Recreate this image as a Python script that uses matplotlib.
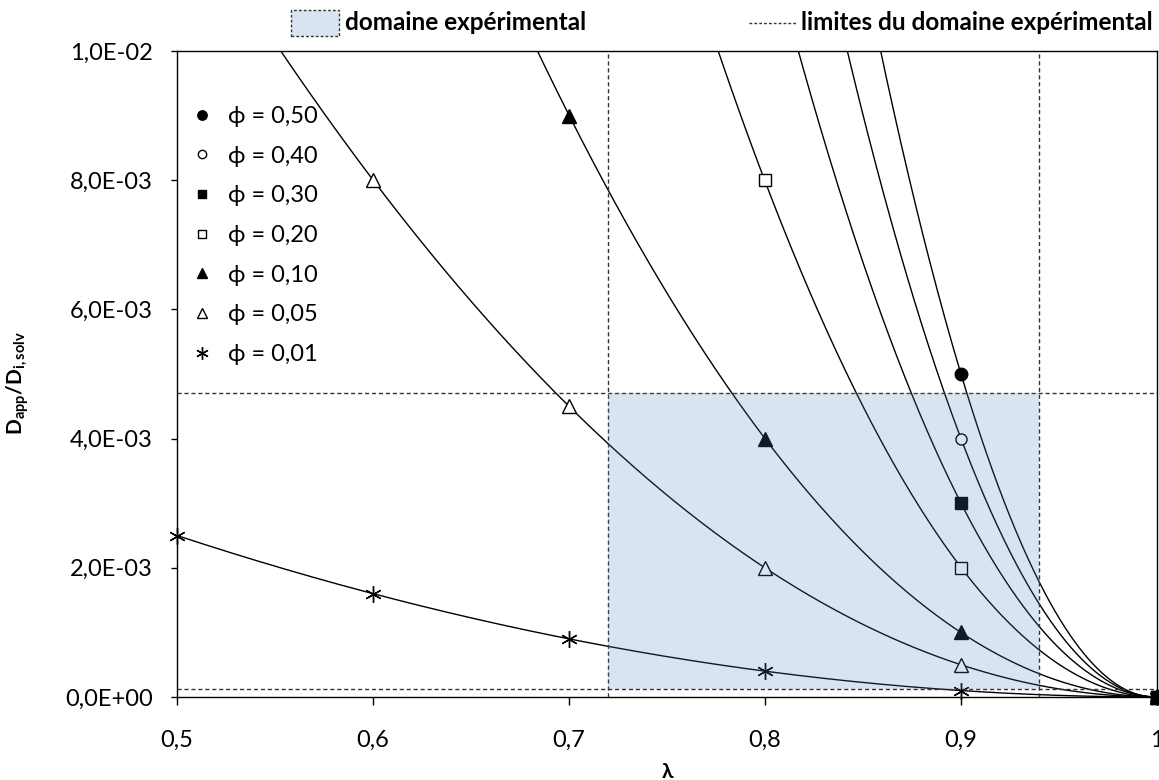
import numpy as np
import matplotlib
matplotlib.use("Agg")
import matplotlib.pyplot as plt
from matplotlib.ticker import FuncFormatter, MultipleLocator
from matplotlib.patches import Rectangle
from matplotlib.lines import Line2D

plt.rcParams["font.family"] = ["Lato", "DejaVu Sans"]
plt.rcParams["mathtext.fontset"] = "custom"
plt.rcParams["mathtext.rm"] = "Lato"
plt.rcParams["mathtext.bf"] = "Lato:bold"
plt.rcParams["mathtext.it"] = "Lato:italic"

# ---- data: measured points per volume fraction phi ----
phi_labels = ["ϕ = 0,50", "ϕ = 0,40", "ϕ = 0,30", "ϕ = 0,20", "ϕ = 0,10", "ϕ = 0,05", "ϕ = 0,01"]

lam_050 = [0.9, 1.0]
d_050 = [5.0e-3, 0.0]
lam_040 = [0.9, 1.0]
d_040 = [4.0e-3, 0.0]
lam_030 = [0.9, 1.0]
d_030 = [3.0e-3, 0.0]
lam_020 = [0.8, 0.9, 1.0]
d_020 = [8.0e-3, 2.0e-3, 0.0]
lam_010 = [0.7, 0.8, 0.9, 1.0]
d_010 = [9.0e-3, 4.0e-3, 1.0e-3, 0.0]
lam_005 = [0.6, 0.7, 0.8, 0.9, 1.0]
d_005 = [8.0e-3, 4.5e-3, 2.0e-3, 5.0e-4, 0.0]
lam_001 = [0.5, 0.6, 0.7, 0.8, 0.9, 1.0]
d_001 = [2.5e-3, 1.6e-3, 9.0e-4, 4.0e-4, 1.0e-4, 0.0]

# lambda at which each fitted curve leaves the top of the plot (D = 1,0E-02)
lam_top = [0.859, 0.842, 0.817, 0.776, 0.684, 0.553, None]

# experimental domain
dom_lam = [0.72, 0.94]
dom_d = [1.2e-4, 4.7e-3]

x_ticks = [0.5, 0.6, 0.7, 0.8, 0.9, 1.0]
y_max = 1.0e-2

lams = [lam_050, lam_040, lam_030, lam_020, lam_010, lam_005, lam_001]
ds = [d_050, d_040, d_030, d_020, d_010, d_005, d_001]

styles = [
    dict(marker="o", mfc="black", mec="black", ms=9),
    dict(marker="o", mfc="white", mec="black", ms=8, mew=1.0),
    dict(marker="s", mfc="black", mec="black", ms=8.5),
    dict(marker="s", mfc="white", mec="black", ms=8.5, mew=1.0),
    dict(marker="^", mfc="black", mec="black", ms=10),
    dict(marker="^", mfc="white", mec="black", ms=9.5, mew=1.0),
    dict(marker=(6, 2, 0), mfc="black", mec="black", ms=12, mew=1.0),
]
marker_z = [3, 3, 3.5, 3, 3, 3, 3]

W, H = 1159, 780
fig = plt.figure(figsize=(W / 100, H / 100), dpi=100)
ax = fig.add_axes([177 / W, 1 - 697 / H, (1157 - 177) / W, (697 - 51) / H])

handles = []
for lam, d, top, st, lab, z in zip(lams, ds, lam_top, styles, phi_labels, marker_z):
    lam = np.asarray(lam)
    d = np.asarray(d)
    if top is not None:
        fit_x = np.append(lam, top)
        fit_y = np.append(d, y_max)
        start = top - 0.01
    else:
        fit_x, fit_y = lam, d
        start = lam.min()
    coef = np.polyfit(fit_x, fit_y, 2)
    xs = np.linspace(start, 1.0, 400)
    ax.plot(xs, np.polyval(coef, xs), color="black", lw=1.0, zorder=2)
    vis = d <= y_max
    h, = ax.plot(lam[vis], d[vis], ls="none", zorder=z, clip_on=False, label=lab, **st)
    handles.append(h)

# dashed limits of the experimental domain
dash = dict(color="#333333", lw=1.0, ls=(0, (3, 2)), zorder=4)
for xv in dom_lam:
    ax.axvline(xv, **dash)
for yv in dom_d:
    ax.axhline(yv, **dash)

ax.add_patch(Rectangle((dom_lam[0], dom_d[0]), dom_lam[1] - dom_lam[0], dom_d[1] - dom_d[0],
                       facecolor="#4F81BD", alpha=0.21, edgecolor="none", zorder=5))

ax.set_xlim(0.5, 1.0)
ax.set_ylim(0, y_max)
ax.set_xticks(x_ticks)
ax.yaxis.set_major_locator(MultipleLocator(2e-3))


def fmt_x(v, pos):
    if abs(v - 1.0) < 1e-9:
        return "1"
    return f"{v:.1f}".replace(".", ",")


def fmt_y(v, pos):
    return f"{v:.1E}".replace(".", ",")


ax.xaxis.set_major_formatter(FuncFormatter(fmt_x))
ax.yaxis.set_major_formatter(FuncFormatter(fmt_y))
ax.tick_params(axis="x", direction="out", length=6, width=1, pad=18, labelsize=17)
ax.tick_params(axis="y", direction="out", length=4.5, width=1, pad=13, labelsize=17)
for sp in ax.spines.values():
    sp.set_linewidth(1.0)
    sp.set_color("black")

leg = ax.legend(handles=handles, loc="upper left", frameon=False, fontsize=17,
                handlelength=1.0, handletextpad=0.6, labelspacing=0.79,
                markerscale=0.75, borderpad=0, borderaxespad=0)
leg.set_bbox_to_anchor((190 / W, 1 - 106 / H), transform=fig.transFigure)

fig.text(18 / W, 1 - 383 / H, r"$\mathbf{D_{app}/D_{i,solv}}$", rotation=90,
         ha="center", va="center", fontsize=15)
fig.text(667 / W, 1 - 772 / H, "λ", ha="center", va="center", fontsize=15,
         fontweight="bold")

# header legend
fig.add_artist(Rectangle((291 / W, 1 - 36 / H), 48 / W, 26 / H, transform=fig.transFigure,
                         facecolor="#dae3f0", edgecolor="#333333", lw=1.0, ls=(0, (2, 1.5))))
fig.text(345 / W, 1 - 23 / H, "domaine expérimental", ha="left", va="center",
         fontsize=17.5, fontweight="bold")
fig.add_artist(Line2D([749 / W, 796 / W], [1 - 23 / H, 1 - 23 / H], transform=fig.transFigure,
                      color="#333333", lw=1.0, ls=(0, (2, 1.5))))
fig.text(801 / W, 1 - 23 / H, "limites du domaine expérimental", ha="left", va="center",
         fontsize=17.5, fontweight="bold")

fig.savefig("out.png", dpi=100)
